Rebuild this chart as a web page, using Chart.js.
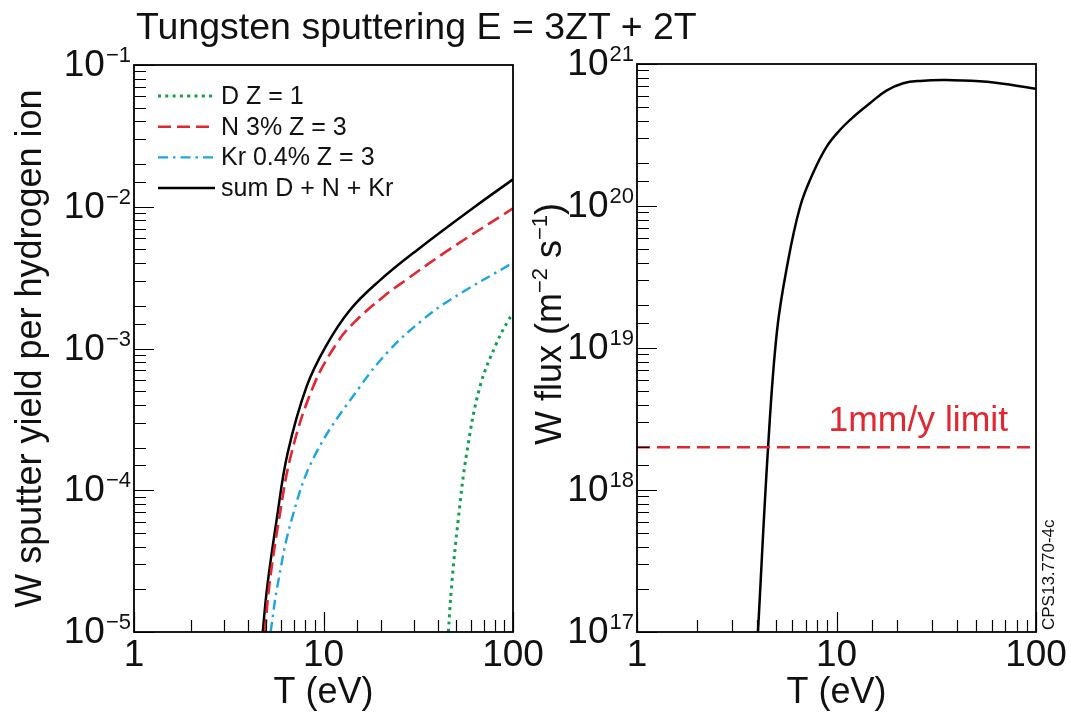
<!DOCTYPE html>
<html>
<head>
<meta charset="utf-8">
<script src="https://cdn.jsdelivr.net/npm/chart.js@4.4.1/dist/chart.umd.min.js"></script>
<style>
  html, body { margin: 0; padding: 0; background: #fff; }
  #page { position: relative; width: 1071px; height: 722px; overflow: hidden; }
  #chartYield { position: absolute; left: 0; top: 0; }
  #chartFlux { position: absolute; left: 520px; top: 0; }
  #title { position: absolute; left: 136px; top: 5px; font: 37.5px "Liberation Sans", Arial, sans-serif; color: #111; white-space: nowrap; }
</style>
</head>
<body>
<div id="page">
  <canvas id="chartYield" width="560" height="722"></canvas>
  <canvas id="chartFlux" width="551" height="722"></canvas>
  <div id="title">Tungsten sputtering E = 3ZT + 2T</div>
</div>
<script>
const FONT = '"Liberation Sans", Arial, Helvetica, sans-serif';

// left panel: W sputter yield per hydrogen ion vs T (eV)
const tempD = [45.6, 47.4, 51.4, 57.0, 67.0, 81.9, 94.4, 100];
const yieldD = [1e-5, 2.1e-5, 6.2e-5, 1.83e-4, 5.4e-4, 1.09e-3, 1.58e-3, 1.77e-3];
const tempN = [4.91, 5.17, 5.82, 6.78, 8.83, 11.7, 14.4, 20.7, 26.8, 46.2, 100];
const yieldN = [1e-5, 2.1e-5, 6.2e-5, 1.83e-4, 5.4e-4, 1.08e-3, 1.51e-3, 2.32e-3, 3.0e-3, 5.0e-3, 9.75e-3];
const tempKr = [5.26, 5.71, 6.79, 9.02, 15.6, 22.4, 33.1, 46.5, 100];
const yieldKr = [1e-5, 2.1e-5, 6.2e-5, 1.77e-4, 5.4e-4, 9.8e-4, 1.58e-3, 2.2e-3, 4.03e-3];
const tempSum = [4.78, 5.05, 5.66, 6.47, 8.15, 10.3, 13.8, 19.7, 31.5, 62.9, 100];
const yieldSum = [1e-5, 2.1e-5, 6.2e-5, 1.83e-4, 5.4e-4, 1.04e-3, 1.87e-3, 3.0e-3, 5.0e-3, 1.0e-2, 1.56e-2];

// right panel: W flux (m^-2 s^-1) vs T (eV)
const tempFlux = [4.04, 4.54, 5.02, 5.64, 6.56, 7.62, 8.93, 10.4, 12.1, 14.7, 17.8, 21.6, 26.2, 35.8, 56.8, 100];
const wFlux = [1e17, 2e18, 1.28e19, 3.7e19, 9.8e19, 1.7e20, 2.62e20, 3.43e20, 4.22e20, 5.29e20, 6.49e20, 7.31e20, 7.6e20, 7.7e20, 7.5e20, 6.7e20];
const tempLimit = [1, 100];
const fluxLimit = [2e18, 2e18];

// tick labels
const tempTicks = [1, 10, 100];
const yieldTicks = [1e-1, 1e-2, 1e-3, 1e-4, 1e-5];
const yieldExps = ["−1", "−2", "−3", "−4", "−5"];
const fluxTicks = [1e21, 1e20, 1e19, 1e18, 1e17];
const fluxExps = ["21", "20", "19", "18", "17"];

const red = "#e1272f";
const green = "#12a050";
const blue = "#1ca6df";

const pts = (xs, ys) => xs.map((x, i) => ({ x: x, y: ys[i] }));
const isDecade = (v) => Math.abs(Math.log10(v) - Math.round(Math.log10(v))) < 1e-6;

// inward ticks, frame and 10^n labels
const axisDecor = {
	id: "axisDecor",
	afterDatasetsDraw(chart, args, opts) {
		const { ctx, chartArea: a } = chart;
		const x = chart.scales.x;
		const y = chart.scales.y;
		ctx.save();
		ctx.strokeStyle = "#000";
		ctx.lineWidth = 1.2;
		ctx.beginPath();
		x.ticks.forEach((t) => {
			const px = Math.round(x.getPixelForValue(t.value)) + 0.5;
			ctx.moveTo(px, a.bottom);
			ctx.lineTo(px, a.bottom - (isDecade(t.value) ? 20 : 12));
		});
		y.ticks.forEach((t) => {
			const py = Math.round(y.getPixelForValue(t.value)) + 0.5;
			ctx.moveTo(a.left, py);
			ctx.lineTo(a.left + (isDecade(t.value) ? 20 : 12), py);
		});
		ctx.stroke();
		ctx.lineWidth = 1.8;
		ctx.strokeRect(a.left, a.top, a.right - a.left, a.bottom - a.top);

		ctx.fillStyle = "#111";
		ctx.font = `37px ${FONT}`;
		ctx.textAlign = "center";
		ctx.textBaseline = "top";
		tempTicks.forEach((v) => {
			ctx.fillText(String(v), x.getPixelForValue(v), a.bottom + 5);
		});
		opts.values.forEach((v, i) => {
			const py = y.getPixelForValue(v);
			const sx = a.left - 3;
			ctx.font = `22px ${FONT}`;
			ctx.textAlign = "right";
			ctx.textBaseline = "alphabetic";
			ctx.fillText(opts.exps[i], sx, py - 3);
			const w = ctx.measureText(opts.exps[i]).width;
			ctx.font = `37px ${FONT}`;
			ctx.textBaseline = "middle";
			ctx.fillText("10", sx - w - 1, py + 1);
		});
		ctx.restore();
	},
};

const legendBox = {
	id: "legendBox",
	afterDraw(chart, args, opts) {
		if (!opts.show) return;
		const { ctx } = chart;
		ctx.save();
		chart.data.datasets.forEach((ds, i) => {
			const ly = opts.top + i * opts.step;
			ctx.strokeStyle = ds.borderColor;
			ctx.lineWidth = ds.borderWidth;
			ctx.setLineDash(ds.borderDash || []);
			ctx.beginPath();
			ctx.moveTo(opts.x0, ly);
			ctx.lineTo(opts.x1, ly);
			ctx.stroke();
			ctx.setLineDash([]);
			ctx.fillStyle = "#111";
			ctx.font = `25px ${FONT}`;
			ctx.textAlign = "left";
			ctx.textBaseline = "middle";
			ctx.fillText(ds.label, opts.x1 + 6, ly + 1);
		});
		ctx.restore();
	},
};

// y title with superscripts, limit label and figure code on the flux panel
const fluxNotes = {
	id: "fluxNotes",
	afterDraw(chart) {
		const { ctx, chartArea: a } = chart;
		const y = chart.scales.y;
		ctx.save();
		ctx.fillStyle = red;
		ctx.font = `35.5px ${FONT}`;
		ctx.textAlign = "right";
		ctx.textBaseline = "alphabetic";
		ctx.fillText("1mm/y limit", a.right - 28, y.getPixelForValue(fluxLimit[0]) - 16);
		ctx.restore();

		ctx.save();
		ctx.fillStyle = "#111";
		ctx.translate(a.right + 13, a.bottom - 2);
		ctx.rotate(-Math.PI / 2);
		ctx.font = `17px ${FONT}`;
		ctx.textAlign = "left";
		ctx.textBaseline = "middle";
		ctx.fillText("CPS13.770-4c", 0, 0);
		ctx.restore();

		const parts = [
			["W flux (m", 36, 0],
			["−2", 22, -14],
			[" s", 36, 0],
			["−1", 22, -14],
			[")", 36, 0],
		];
		ctx.save();
		ctx.fillStyle = "#111";
		ctx.textAlign = "left";
		ctx.textBaseline = "alphabetic";
		let total = 0;
		parts.forEach((p) => {
			ctx.font = `${p[1]}px ${FONT}`;
			total += ctx.measureText(p[0]).width;
		});
		ctx.translate(a.left - 89, 324);
		ctx.rotate(-Math.PI / 2);
		let cx = -total / 2;
		parts.forEach((p) => {
			ctx.font = `${p[1]}px ${FONT}`;
			ctx.fillText(p[0], cx, 13 + p[2]);
			cx += ctx.measureText(p[0]).width;
		});
		ctx.restore();
	},
};

const logAxis = (min, max, titleText, fit) => ({
	type: "logarithmic",
	min: min,
	max: max,
	grid: { display: false },
	border: { display: false },
	ticks: { display: false },
	title: titleText
		? {
				display: true,
				text: titleText,
				color: "#111",
				font: { family: FONT, size: 36 },
				padding: { top: 9, bottom: 7 },
		  }
		: { display: false },
	afterFit: fit,
});

const yieldChart = new Chart(document.getElementById("chartYield"), {
	type: "line",
	data: {
		datasets: [
			{
				label: "D Z = 1",
				data: pts(tempD, yieldD),
				borderColor: green,
				borderWidth: 3,
				borderDash: [3, 4.3],
			},
			{
				label: "N 3% Z = 3",
				data: pts(tempN, yieldN),
				borderColor: red,
				borderWidth: 2.6,
				borderDash: [13, 6],
			},
			{
				label: "Kr 0.4% Z = 3",
				data: pts(tempKr, yieldKr),
				borderColor: blue,
				borderWidth: 2.4,
				borderDash: [10, 5, 2.5, 5],
			},
			{
				label: "sum D + N + Kr",
				data: pts(tempSum, yieldSum),
				borderColor: "#000",
				borderWidth: 2.5,
			},
		],
	},
	options: {
		responsive: false,
		animation: false,
		parsing: false,
		elements: {
			point: { radius: 0 },
			line: { tension: 0.4, fill: false },
		},
		layout: { padding: { top: 65, right: 47, left: 0, bottom: 0 } },
		scales: {
			x: logAxis(1, 100, "T (eV)", (s) => { s.height = 90; }),
			y: logAxis(1e-5, 1e-1, "W sputter yield per hydrogen ion", (s) => { s.width = 134; }),
		},
		plugins: {
			legend: { display: false },
			tooltip: { enabled: false },
			axisDecor: { values: yieldTicks, exps: yieldExps },
			legendBox: { show: true, x0: 158, x1: 215, top: 96, step: 30.7 },
		},
	},
	plugins: [axisDecor, legendBox],
});

const fluxChart = new Chart(document.getElementById("chartFlux"), {
	type: "line",
	data: {
		datasets: [
			{
				label: "1mm/y limit",
				data: pts(tempLimit, fluxLimit),
				borderColor: red,
				borderWidth: 2.6,
				borderDash: [13, 7],
				tension: 0,
			},
			{
				label: "W flux",
				data: pts(tempFlux, wFlux),
				borderColor: "#000",
				borderWidth: 2.5,
			},
		],
	},
	options: {
		responsive: false,
		animation: false,
		parsing: false,
		elements: {
			point: { radius: 0 },
			line: { tension: 0.4, fill: false },
		},
		layout: { padding: { top: 64, right: 35, left: 0, bottom: 0 } },
		scales: {
			x: logAxis(1, 100, "T (eV)", (s) => { s.height = 90; }),
			y: logAxis(1e17, 1e21, null, (s) => { s.width = 117; }),
		},
		plugins: {
			legend: { display: false },
			tooltip: { enabled: false },
			axisDecor: { values: fluxTicks, exps: fluxExps },
		},
	},
	plugins: [axisDecor, fluxNotes],
});
</script>
</body>
</html>
